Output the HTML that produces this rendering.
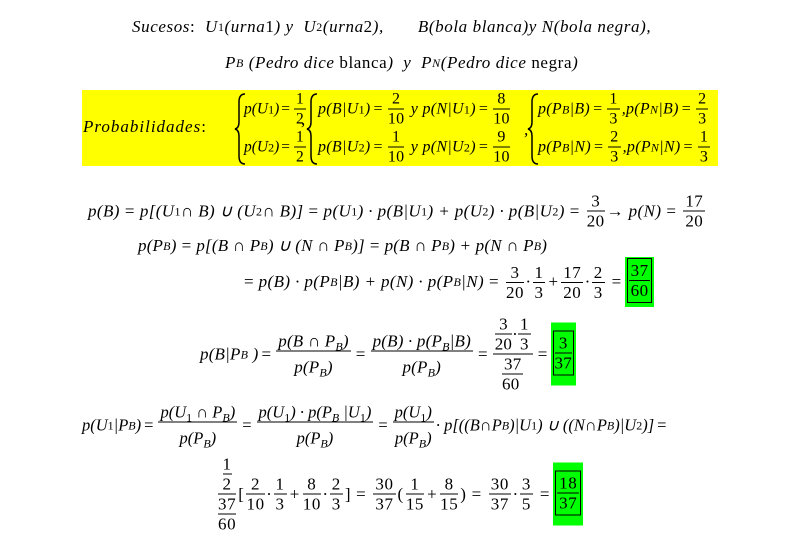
<!DOCTYPE html>
<html><head><meta charset="utf-8"><style>
body{margin:0;width:793px;height:532px;background:#fff;position:relative;overflow:hidden;font-family:"Liberation Serif",serif;color:#000}
.l{position:absolute;white-space:nowrap;font-style:italic;font-size:17px;letter-spacing:0.6px;display:flex;align-items:center;transform:translateY(-50%)}
.f{display:inline-flex;flex-direction:column;align-items:center;font-style:normal;margin:0 2px;line-height:19px}
.fi{font-style:italic}
.f>span:first-child{border-bottom:1px solid #000;padding:0 2px;align-self:stretch;text-align:center}
.f>span{display:block}
sub{font-size:12px;vertical-align:-4px;font-style:inherit;line-height:0}
.n{font-style:normal}
.e{font-style:normal;margin:0 5px}
.g{background:#00ff00;padding:1px 2px 4px 2px;display:inline-flex;margin-left:3px}
.g>.f{border:1px solid #000;margin:0;padding:2px 1px}
.y{position:absolute;left:82px;top:90px;width:636px;height:76px;background:#ffff00}
.yy{font-size:16px;letter-spacing:0}
.yy .e{margin:0 3px}
</style></head><body>

<div class="l" style="left:132px;top:27px">Sucesos<span class="n">:</span>&nbsp; U<sub class="n">1</sub>(urna <span class="n">1</span>) y &nbsp;U<sub class="n">2</sub>(urna <span class="n">2</span>),<span style="display:inline-block;width:34px"></span>B(bola blanca)y N(bola negra),</div>
<div class="l" style="left:225px;top:63px">P<sub>B</sub>&nbsp;(Pedro dice <span class="n">&nbsp;blanca</span>)&nbsp; y &nbsp;P<sub>N</sub>(Pedro dice <span class="n">&nbsp;negra</span>)</div>

<div class="y"></div>
<div class="l" style="left:83px;top:127px;letter-spacing:1px">Probabilidades<span class="n">:</span></div>
<svg style="position:absolute;left:234px;top:92px" width="320" height="74">
<g fill="none" stroke="#000" stroke-width="1.5">
<path d="M11 2 Q5 2 5 10 L5 30 Q5 36 1 37 Q5 38 5 44 L5 64 Q5 72 11 72"/>
<path d="M83 2 Q77 2 77 10 L77 30 Q77 36 73 37 Q77 38 77 44 L77 64 Q77 72 83 72"/>
<path d="M304 2 Q298 2 298 10 L298 30 Q298 36 294 37 Q298 38 298 44 L298 64 Q298 72 304 72"/>
</g></svg>
<div class="l yy" style="left:244px;top:109px;font-size:15.5px">p(U<sub class="n">1</sub>)<span class="e" style="margin:0 2px">=</span><span class="f"><span>1</span><span>2</span></span></div>
<div class="l yy" style="left:244px;top:147px;font-size:15.5px">p(U<sub class="n">2</sub>)<span class="e" style="margin:0 2px">=</span><span class="f"><span>1</span><span>2</span></span></div>
<div class="l" style="left:301px;top:120px">,</div>
<div class="l yy" style="left:318px;top:109px;letter-spacing:0.3px">p(B|U<sub class="n">1</sub>)<span class="e">=</span><span class="f"><span>2</span><span>10</span></span>&nbsp;y p(N|U<sub class="n">1</sub>)<span class="e">=</span><span class="f"><span>8</span><span>10</span></span></div>
<div class="l yy" style="left:318px;top:147px;letter-spacing:0.3px">p(B|U<sub class="n">2</sub>)<span class="e">=</span><span class="f"><span>1</span><span>10</span></span>&nbsp;y p(N|U<sub class="n">2</sub>)<span class="e">=</span><span class="f"><span>9</span><span>10</span></span></div>
<div class="l" style="left:524px;top:130px">,</div>
<div class="l yy" style="left:538px;top:109px;letter-spacing:0.3px">p(P<sub>B</sub>|B)<span class="e">=</span><span class="f"><span>1</span><span>3</span></span>,p(P<sub>N</sub>|B)<span class="e">=</span><span class="f"><span>2</span><span>3</span></span></div>
<div class="l yy" style="left:538px;top:147px;letter-spacing:0.3px">p(P<sub>B</sub>|N)<span class="e">=</span><span class="f"><span>2</span><span>3</span></span>,p(P<sub>N</sub>|N)<span class="e">=</span><span class="f"><span>1</span><span>3</span></span></div>

<div class="l" style="left:88px;top:211px;letter-spacing:0.4px">p(B)<span class="e">=</span>p[(U<sub class="n">1</sub> ∩ B) ∪ (U<sub class="n">2</sub> ∩ B)]<span class="e">=</span>p(U<sub class="n">1</sub>) · p(B|U<sub class="n">1</sub>) + p(U<sub class="n">2</sub>) · p(B|U<sub class="n">2</sub>)<span class="e">=</span><span class="f"><span>3</span><span>20</span></span>→ p(N)<span class="e">=</span><span class="f"><span>17</span><span>20</span></span></div>

<div class="l" style="left:138px;top:246px;letter-spacing:0.2px">p(P<sub>B</sub>)<span class="e">=</span>p[(B ∩ P<sub>B</sub>) ∪ (N ∩ P<sub>B</sub>)]<span class="e">=</span>p(B ∩ P<sub>B</sub>) + p(N ∩ P<sub>B</sub>)</div>
<div class="l" style="left:244px;top:282px;letter-spacing:0.4px"><span class="n">=&nbsp;</span>p(B) · p(P<sub>B</sub>|B) + p(N) · p(P<sub>B</sub>|N)<span class="e">=</span><span class="f"><span>3</span><span>20</span></span>·<span class="f"><span>1</span><span>3</span></span>+<span class="f"><span>17</span><span>20</span></span>·<span class="f"><span>2</span><span>3</span></span><span class="e" style="margin-right:0">=</span><span class="g"><span class="f"><span>37</span><span>60</span></span></span></div>

<div class="l" style="left:200px;top:354px;letter-spacing:0.2px">p(B|P<sub>B</sub>&nbsp;)<span class="e" style="margin:0 3px">=</span><span class="f fi"><span>p(B ∩ P<sub>B</sub>)</span><span style="margin-top:6px">p(P<sub>B</sub>)</span></span><span class="e" style="margin:0 3px">=</span><span class="f fi"><span>p(B) · p(P<sub>B</sub>|B)</span><span style="margin-top:6px">p(P<sub>B</sub>)</span></span><span class="e" style="margin:0 3px">=</span><span class="f"><span style="display:flex;align-items:center"><span class="f" style="margin:0"><span style="border:0;padding:0">3</span><span style="border-top:1px solid #000">20</span></span>·<span class="f" style="margin:0"><span>1</span><span>3</span></span></span><span class="f" style="margin:0"><span>37</span><span>60</span></span></span><span class="e" style="margin:0 0 0 3px">=</span><span class="g" style="padding:8px 2px 10px"><span class="f"><span>3</span><span>37</span></span></span></div>

<div class="l" style="left:82px;top:425px;letter-spacing:0;font-size:16.5px">p(U<sub class="n">1</sub>|P<sub>B</sub>)<span class="e" style="margin:0 3px">=</span><span class="f fi"><span>p(U<sub class="n">1</sub> ∩ P<sub>B</sub>)</span><span style="margin-top:6px">p(P<sub>B</sub>)</span></span><span class="e" style="margin:0 3px">=</span><span class="f fi"><span>p(U<sub class="n">1</sub>) · p(P<sub>B</sub> |U<sub class="n">1</sub>)</span><span style="margin-top:6px">p(P<sub>B</sub>)</span></span><span class="e" style="margin:0 3px">=</span><span class="f fi"><span>p(U<sub class="n">1</sub>)</span><span style="margin-top:6px">p(P<sub>B</sub>)</span></span>· p[((B∩P<sub>B</sub>)|U<sub class="n">1</sub>) ∪ ((N∩P<sub>B</sub>)|U<sub class="n">2</sub>)]<span class="e" style="margin:0 3px">=</span></div>

<div class="l" style="left:216px;top:494px"><span class="f"><span style="display:flex;flex-direction:column;align-items:center;border-bottom:1px solid #000"><span style="border-bottom:1px solid #000">1</span><span>2</span></span><span style="display:flex;flex-direction:column;align-items:center"><span style="border-bottom:1px solid #000">37</span><span>60</span></span></span><span class="n">[</span><span class="f"><span>2</span><span>10</span></span>·<span class="f"><span>1</span><span>3</span></span>+<span class="f"><span>8</span><span>10</span></span>·<span class="f"><span>2</span><span>3</span></span><span class="n">]</span><span class="e">=</span><span class="f"><span>30</span><span>37</span></span><span class="n">(</span><span class="f"><span>1</span><span>15</span></span>+<span class="f"><span>8</span><span>15</span></span><span class="n">)</span><span class="e">=</span><span class="f"><span>30</span><span>37</span></span>·<span class="f"><span>3</span><span>5</span></span><span class="e" style="margin-right:0">=</span><span class="g" style="padding:8px 2px 10px"><span class="f"><span>18</span><span>37</span></span></span></div>
</body></html>
